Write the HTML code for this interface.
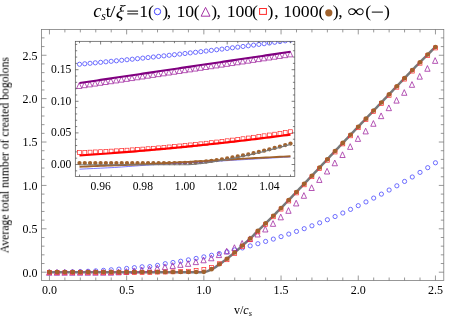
<!DOCTYPE html>
<html><head><meta charset="utf-8"><title>plot</title>
<style>html,body{margin:0;padding:0;background:#fff}svg{display:block}</style></head>
<body>
<svg width="463" height="317" viewBox="0 0 463 317">
<rect width="463" height="317" fill="#fff"/>
<defs><filter id="nl" filterUnits="userSpaceOnUse" x="0" y="0" width="463" height="317"><feOffset dx="0" dy="0"/></filter></defs>
<g id="main">
<polyline points="49.45,272.2 126.65,272.2 203.85,272.2 203.85,272.2 205.39,271.81 206.94,271.32 208.48,270.75 210.03,270.11 211.57,269.42 213.11,268.62 214.66,267.68 216.2,266.64 217.75,265.56 219.29,264.48 220.83,263.39 222.38,262.27 223.92,261.12 225.47,259.94 227.01,258.75 228.55,257.54 230.1,256.32 231.64,255.07 233.19,253.8 234.73,252.5 236.27,251.16 237.82,249.78 239.36,248.38 240.91,246.96 242.45,245.56 243.99,244.17 245.54,242.78 247.08,241.39 248.63,239.97 250.17,238.53 251.71,237.04 253.26,235.52 254.8,233.97 256.35,232.42 257.89,230.89 259.43,229.38 260.98,227.87 262.52,226.36 264.07,224.85 265.61,223.34 267.15,221.83 268.7,220.33 270.24,218.82 271.79,217.31 273.33,215.79 274.87,214.27 276.42,212.75 277.96,211.23 279.51,209.68 281.05,208.12 282.59,206.5 284.14,204.88 285.68,203.26 287.23,201.64 288.77,200.03 290.31,198.41 291.86,196.79 293.4,195.17 294.95,193.55 296.49,191.93 298.03,190.31 299.58,188.69 301.12,187.07 302.67,185.45 304.21,183.83 305.75,182.21 307.3,180.59 308.84,178.97 310.39,177.35 311.93,175.74 313.47,174.09 315.02,172.44 316.56,170.79 318.11,169.14 319.65,167.49 321.19,165.85 322.74,164.2 324.28,162.55 325.83,160.9 327.37,159.25 328.91,157.6 330.46,155.96 332,154.31 333.55,152.66 335.09,151.01 336.63,149.39 338.18,147.77 339.72,146.15 341.27,144.53 342.81,142.92 344.35,141.3 345.9,139.68 347.44,138.06 348.99,136.44 350.53,134.82 352.07,133.2 353.62,131.58 355.16,129.96 356.71,128.34 358.25,126.72 359.79,125.1 361.34,123.48 362.88,121.86 364.43,120.24 365.97,118.63 367.51,117.01 369.06,115.39 370.6,113.77 372.15,112.15 373.69,110.53 375.23,108.91 376.78,107.29 378.32,105.67 379.87,104.05 381.41,102.43 382.95,100.81 384.5,99.19 386.04,97.57 387.59,95.96 389.13,94.34 390.67,92.72 392.22,91.1 393.76,89.48 395.31,87.86 396.85,86.24 398.39,84.62 399.94,83 401.48,81.38 403.03,79.76 404.57,78.14 406.11,76.53 407.66,74.92 409.2,73.31 410.75,71.71 412.29,70.12 413.83,68.54 415.38,66.96 416.92,65.38 418.47,63.81 420.01,62.25 421.55,60.7 423.1,59.15 424.64,57.6 426.19,56.07 427.73,54.54 429.27,53.01 430.82,51.49 432.36,49.98 433.91,48.47 435.45,46.97" fill="none" stroke="#787878" stroke-width="2.5" stroke-linejoin="round"/>
<circle cx="49.45" cy="272.2" r="2.1" fill="none" stroke="#4040ff" stroke-width="0.75"/>
<circle cx="57.17" cy="272.16" r="2.1" fill="none" stroke="#4040ff" stroke-width="0.75"/>
<circle cx="64.89" cy="272.05" r="2.1" fill="none" stroke="#4040ff" stroke-width="0.75"/>
<circle cx="72.61" cy="271.86" r="2.1" fill="none" stroke="#4040ff" stroke-width="0.75"/>
<circle cx="80.33" cy="271.6" r="2.1" fill="none" stroke="#4040ff" stroke-width="0.75"/>
<circle cx="88.05" cy="271.27" r="2.1" fill="none" stroke="#4040ff" stroke-width="0.75"/>
<circle cx="95.77" cy="270.85" r="2.1" fill="none" stroke="#4040ff" stroke-width="0.75"/>
<circle cx="103.49" cy="270.37" r="2.1" fill="none" stroke="#4040ff" stroke-width="0.75"/>
<circle cx="111.21" cy="269.8" r="2.1" fill="none" stroke="#4040ff" stroke-width="0.75"/>
<circle cx="118.93" cy="269.16" r="2.1" fill="none" stroke="#4040ff" stroke-width="0.75"/>
<circle cx="126.65" cy="268.44" r="2.1" fill="none" stroke="#4040ff" stroke-width="0.75"/>
<circle cx="134.37" cy="267.65" r="2.1" fill="none" stroke="#4040ff" stroke-width="0.75"/>
<circle cx="142.09" cy="266.78" r="2.1" fill="none" stroke="#4040ff" stroke-width="0.75"/>
<circle cx="149.81" cy="266.61" r="2.1" fill="none" stroke="#4040ff" stroke-width="0.75"/>
<circle cx="157.53" cy="265.4" r="2.1" fill="none" stroke="#4040ff" stroke-width="0.75"/>
<circle cx="165.25" cy="263.68" r="2.1" fill="none" stroke="#4040ff" stroke-width="0.75"/>
<circle cx="172.97" cy="262.49" r="2.1" fill="none" stroke="#4040ff" stroke-width="0.75"/>
<circle cx="180.69" cy="261.21" r="2.1" fill="none" stroke="#4040ff" stroke-width="0.75"/>
<circle cx="188.41" cy="259.85" r="2.1" fill="none" stroke="#4040ff" stroke-width="0.75"/>
<circle cx="196.13" cy="258.41" r="2.1" fill="none" stroke="#4040ff" stroke-width="0.75"/>
<circle cx="203.85" cy="256.88" r="2.1" fill="none" stroke="#4040ff" stroke-width="0.75"/>
<circle cx="211.57" cy="255.27" r="2.1" fill="none" stroke="#4040ff" stroke-width="0.75"/>
<circle cx="219.29" cy="253.57" r="2.1" fill="none" stroke="#4040ff" stroke-width="0.75"/>
<circle cx="227.01" cy="251.78" r="2.1" fill="none" stroke="#4040ff" stroke-width="0.75"/>
<circle cx="234.73" cy="249.9" r="2.1" fill="none" stroke="#4040ff" stroke-width="0.75"/>
<circle cx="242.45" cy="247.92" r="2.1" fill="none" stroke="#4040ff" stroke-width="0.75"/>
<circle cx="250.17" cy="245.86" r="2.1" fill="none" stroke="#4040ff" stroke-width="0.75"/>
<circle cx="257.89" cy="243.7" r="2.1" fill="none" stroke="#4040ff" stroke-width="0.75"/>
<circle cx="265.61" cy="241.44" r="2.1" fill="none" stroke="#4040ff" stroke-width="0.75"/>
<circle cx="273.33" cy="239.09" r="2.1" fill="none" stroke="#4040ff" stroke-width="0.75"/>
<circle cx="281.05" cy="236.64" r="2.1" fill="none" stroke="#4040ff" stroke-width="0.75"/>
<circle cx="288.77" cy="234.09" r="2.1" fill="none" stroke="#4040ff" stroke-width="0.75"/>
<circle cx="296.49" cy="231.43" r="2.1" fill="none" stroke="#4040ff" stroke-width="0.75"/>
<circle cx="304.21" cy="228.67" r="2.1" fill="none" stroke="#4040ff" stroke-width="0.75"/>
<circle cx="311.93" cy="225.8" r="2.1" fill="none" stroke="#4040ff" stroke-width="0.75"/>
<circle cx="319.65" cy="222.83" r="2.1" fill="none" stroke="#4040ff" stroke-width="0.75"/>
<circle cx="327.37" cy="219.74" r="2.1" fill="none" stroke="#4040ff" stroke-width="0.75"/>
<circle cx="335.09" cy="216.54" r="2.1" fill="none" stroke="#4040ff" stroke-width="0.75"/>
<circle cx="342.81" cy="213.02" r="2.1" fill="none" stroke="#4040ff" stroke-width="0.75"/>
<circle cx="350.53" cy="209.39" r="2.1" fill="none" stroke="#4040ff" stroke-width="0.75"/>
<circle cx="358.25" cy="205.64" r="2.1" fill="none" stroke="#4040ff" stroke-width="0.75"/>
<circle cx="365.97" cy="201.93" r="2.1" fill="none" stroke="#4040ff" stroke-width="0.75"/>
<circle cx="373.69" cy="198.09" r="2.1" fill="none" stroke="#4040ff" stroke-width="0.75"/>
<circle cx="381.41" cy="194.12" r="2.1" fill="none" stroke="#4040ff" stroke-width="0.75"/>
<circle cx="389.13" cy="190.03" r="2.1" fill="none" stroke="#4040ff" stroke-width="0.75"/>
<circle cx="396.85" cy="185.8" r="2.1" fill="none" stroke="#4040ff" stroke-width="0.75"/>
<circle cx="404.57" cy="181.44" r="2.1" fill="none" stroke="#4040ff" stroke-width="0.75"/>
<circle cx="412.29" cy="176.99" r="2.1" fill="none" stroke="#4040ff" stroke-width="0.75"/>
<circle cx="420.01" cy="172.4" r="2.1" fill="none" stroke="#4040ff" stroke-width="0.75"/>
<circle cx="427.73" cy="167.67" r="2.1" fill="none" stroke="#4040ff" stroke-width="0.75"/>
<circle cx="435.45" cy="162.79" r="2.1" fill="none" stroke="#4040ff" stroke-width="0.75"/>
<path d="M49.15 269.58L51.8 275.28L46.5 275.28Z" fill="none" stroke="#9c1f9c" stroke-width="0.75"/>
<path d="M56.87 269.57L59.52 275.27L54.22 275.27Z" fill="none" stroke="#9c1f9c" stroke-width="0.75"/>
<path d="M64.59 269.56L67.24 275.26L61.94 275.26Z" fill="none" stroke="#9c1f9c" stroke-width="0.75"/>
<path d="M72.31 269.55L74.96 275.25L69.66 275.25Z" fill="none" stroke="#9c1f9c" stroke-width="0.75"/>
<path d="M80.03 269.54L82.68 275.24L77.38 275.24Z" fill="none" stroke="#9c1f9c" stroke-width="0.75"/>
<path d="M87.75 269.53L90.4 275.23L85.1 275.23Z" fill="none" stroke="#9c1f9c" stroke-width="0.75"/>
<path d="M95.47 269.52L98.12 275.22L92.82 275.22Z" fill="none" stroke="#9c1f9c" stroke-width="0.75"/>
<path d="M103.19 269.51L105.84 275.21L100.54 275.21Z" fill="none" stroke="#9c1f9c" stroke-width="0.75"/>
<path d="M110.91 269.5L113.56 275.2L108.26 275.2Z" fill="none" stroke="#9c1f9c" stroke-width="0.75"/>
<path d="M118.63 269.15L121.28 274.85L115.98 274.85Z" fill="none" stroke="#9c1f9c" stroke-width="0.75"/>
<path d="M126.35 268.63L129 274.33L123.7 274.33Z" fill="none" stroke="#9c1f9c" stroke-width="0.75"/>
<path d="M134.07 267.94L136.72 273.64L131.42 273.64Z" fill="none" stroke="#9c1f9c" stroke-width="0.75"/>
<path d="M141.79 267.07L144.44 272.77L139.14 272.77Z" fill="none" stroke="#9c1f9c" stroke-width="0.75"/>
<path d="M149.51 266.2L152.16 271.9L146.86 271.9Z" fill="none" stroke="#9c1f9c" stroke-width="0.75"/>
<path d="M157.23 265.16L159.88 270.86L154.58 270.86Z" fill="none" stroke="#9c1f9c" stroke-width="0.75"/>
<path d="M164.95 263.94L167.6 269.64L162.3 269.64Z" fill="none" stroke="#9c1f9c" stroke-width="0.75"/>
<path d="M172.67 262.73L175.32 268.43L170.02 268.43Z" fill="none" stroke="#9c1f9c" stroke-width="0.75"/>
<path d="M180.39 261.69L183.04 267.39L177.74 267.39Z" fill="none" stroke="#9c1f9c" stroke-width="0.75"/>
<path d="M188.11 260.65L190.76 266.35L185.46 266.35Z" fill="none" stroke="#9c1f9c" stroke-width="0.75"/>
<path d="M195.83 258.91L198.48 264.61L193.18 264.61Z" fill="none" stroke="#9c1f9c" stroke-width="0.75"/>
<path d="M203.55 257.09L206.2 262.79L200.9 262.79Z" fill="none" stroke="#9c1f9c" stroke-width="0.75"/>
<path d="M211.27 255.09L213.92 260.79L208.62 260.79Z" fill="none" stroke="#9c1f9c" stroke-width="0.75"/>
<path d="M218.99 251.88L221.64 257.58L216.34 257.58Z" fill="none" stroke="#9c1f9c" stroke-width="0.75"/>
<path d="M226.71 248.32L229.36 254.02L224.06 254.02Z" fill="none" stroke="#9c1f9c" stroke-width="0.75"/>
<path d="M234.43 244.76L237.08 250.46L231.78 250.46Z" fill="none" stroke="#9c1f9c" stroke-width="0.75"/>
<path d="M242.15 240.51L244.8 246.21L239.5 246.21Z" fill="none" stroke="#9c1f9c" stroke-width="0.75"/>
<path d="M249.87 235.91L252.52 241.61L247.22 241.61Z" fill="none" stroke="#9c1f9c" stroke-width="0.75"/>
<path d="M257.59 231.27L260.24 236.97L254.94 236.97Z" fill="none" stroke="#9c1f9c" stroke-width="0.75"/>
<path d="M265.31 226.28L267.96 231.98L262.66 231.98Z" fill="none" stroke="#9c1f9c" stroke-width="0.75"/>
<path d="M273.03 220.64L275.68 226.34L270.38 226.34Z" fill="none" stroke="#9c1f9c" stroke-width="0.75"/>
<path d="M280.75 214.13L283.4 219.83L278.1 219.83Z" fill="none" stroke="#9c1f9c" stroke-width="0.75"/>
<path d="M288.47 207.62L291.12 213.32L285.82 213.32Z" fill="none" stroke="#9c1f9c" stroke-width="0.75"/>
<path d="M296.19 200.25L298.84 205.95L293.54 205.95Z" fill="none" stroke="#9c1f9c" stroke-width="0.75"/>
<path d="M303.91 192.61L306.56 198.31L301.26 198.31Z" fill="none" stroke="#9c1f9c" stroke-width="0.75"/>
<path d="M311.63 184.8L314.28 190.5L308.98 190.5Z" fill="none" stroke="#9c1f9c" stroke-width="0.75"/>
<path d="M319.35 176.73L322 182.43L316.7 182.43Z" fill="none" stroke="#9c1f9c" stroke-width="0.75"/>
<path d="M327.07 168.31L329.72 174.01L324.42 174.01Z" fill="none" stroke="#9c1f9c" stroke-width="0.75"/>
<path d="M334.79 160.07L337.44 165.77L332.14 165.77Z" fill="none" stroke="#9c1f9c" stroke-width="0.75"/>
<path d="M342.51 151.82L345.16 157.52L339.86 157.52Z" fill="none" stroke="#9c1f9c" stroke-width="0.75"/>
<path d="M350.23 143.67L352.88 149.37L347.58 149.37Z" fill="none" stroke="#9c1f9c" stroke-width="0.75"/>
<path d="M357.95 135.68L360.6 141.38L355.3 141.38Z" fill="none" stroke="#9c1f9c" stroke-width="0.75"/>
<path d="M365.67 128.22L368.32 133.92L363.02 133.92Z" fill="none" stroke="#9c1f9c" stroke-width="0.75"/>
<path d="M373.39 120.58L376.04 126.28L370.74 126.28Z" fill="none" stroke="#9c1f9c" stroke-width="0.75"/>
<path d="M381.11 112.95L383.76 118.65L378.46 118.65Z" fill="none" stroke="#9c1f9c" stroke-width="0.75"/>
<path d="M388.83 104.96L391.48 110.66L386.18 110.66Z" fill="none" stroke="#9c1f9c" stroke-width="0.75"/>
<path d="M396.55 97.41L399.2 103.11L393.9 103.11Z" fill="none" stroke="#9c1f9c" stroke-width="0.75"/>
<path d="M404.27 89.6L406.92 95.3L401.62 95.3Z" fill="none" stroke="#9c1f9c" stroke-width="0.75"/>
<path d="M411.99 81.62L414.64 87.32L409.34 87.32Z" fill="none" stroke="#9c1f9c" stroke-width="0.75"/>
<path d="M419.71 73.46L422.36 79.16L417.06 79.16Z" fill="none" stroke="#9c1f9c" stroke-width="0.75"/>
<path d="M427.43 65.56L430.08 71.26L424.78 71.26Z" fill="none" stroke="#9c1f9c" stroke-width="0.75"/>
<path d="M435.15 57.67L437.8 63.37L432.5 63.37Z" fill="none" stroke="#9c1f9c" stroke-width="0.75"/>
<rect x="47.5" y="270.51" width="3.9" height="3.9" fill="none" stroke="#ff2a2a" stroke-width="0.7"/>
<rect x="55.22" y="270.51" width="3.9" height="3.9" fill="none" stroke="#ff2a2a" stroke-width="0.7"/>
<rect x="62.94" y="270.51" width="3.9" height="3.9" fill="none" stroke="#ff2a2a" stroke-width="0.7"/>
<rect x="70.66" y="270.51" width="3.9" height="3.9" fill="none" stroke="#ff2a2a" stroke-width="0.7"/>
<rect x="78.38" y="270.51" width="3.9" height="3.9" fill="none" stroke="#ff2a2a" stroke-width="0.7"/>
<rect x="86.1" y="270.51" width="3.9" height="3.9" fill="none" stroke="#ff2a2a" stroke-width="0.7"/>
<rect x="93.82" y="270.51" width="3.9" height="3.9" fill="none" stroke="#ff2a2a" stroke-width="0.7"/>
<rect x="101.54" y="270.51" width="3.9" height="3.9" fill="none" stroke="#ff2a2a" stroke-width="0.7"/>
<rect x="109.26" y="270.51" width="3.9" height="3.9" fill="none" stroke="#ff2a2a" stroke-width="0.7"/>
<rect x="116.98" y="270.51" width="3.9" height="3.9" fill="none" stroke="#ff2a2a" stroke-width="0.7"/>
<rect x="124.7" y="270.51" width="3.9" height="3.9" fill="none" stroke="#ff2a2a" stroke-width="0.7"/>
<rect x="132.42" y="270.51" width="3.9" height="3.9" fill="none" stroke="#ff2a2a" stroke-width="0.7"/>
<rect x="140.14" y="270.51" width="3.9" height="3.9" fill="none" stroke="#ff2a2a" stroke-width="0.7"/>
<rect x="147.86" y="270.51" width="3.9" height="3.9" fill="none" stroke="#ff2a2a" stroke-width="0.7"/>
<rect x="155.58" y="270.16" width="3.9" height="3.9" fill="none" stroke="#ff2a2a" stroke-width="0.7"/>
<rect x="163.3" y="270.08" width="3.9" height="3.9" fill="none" stroke="#ff2a2a" stroke-width="0.7"/>
<rect x="171.02" y="269.9" width="3.9" height="3.9" fill="none" stroke="#ff2a2a" stroke-width="0.7"/>
<rect x="178.74" y="269.64" width="3.9" height="3.9" fill="none" stroke="#ff2a2a" stroke-width="0.7"/>
<rect x="186.46" y="269.3" width="3.9" height="3.9" fill="none" stroke="#ff2a2a" stroke-width="0.7"/>
<rect x="194.18" y="268.6" width="3.9" height="3.9" fill="none" stroke="#ff2a2a" stroke-width="0.7"/>
<rect x="201.9" y="267.56" width="3.9" height="3.9" fill="none" stroke="#ff2a2a" stroke-width="0.7"/>
<rect x="209.62" y="265.39" width="3.9" height="3.9" fill="none" stroke="#ff2a2a" stroke-width="0.7"/>
<rect x="217.34" y="261.75" width="3.9" height="3.9" fill="none" stroke="#ff2a2a" stroke-width="0.7"/>
<rect x="225.06" y="257.8" width="3.9" height="3.9" fill="none" stroke="#ff2a2a" stroke-width="0.7"/>
<rect x="232.78" y="251.55" width="3.9" height="3.9" fill="none" stroke="#ff2a2a" stroke-width="0.7"/>
<rect x="240.5" y="244.61" width="3.9" height="3.9" fill="none" stroke="#ff2a2a" stroke-width="0.7"/>
<rect x="248.22" y="237.58" width="3.9" height="3.9" fill="none" stroke="#ff2a2a" stroke-width="0.7"/>
<rect x="255.94" y="229.94" width="3.9" height="3.9" fill="none" stroke="#ff2a2a" stroke-width="0.7"/>
<rect x="263.66" y="222.39" width="3.9" height="3.9" fill="none" stroke="#ff2a2a" stroke-width="0.7"/>
<rect x="271.38" y="214.84" width="3.9" height="3.9" fill="none" stroke="#ff2a2a" stroke-width="0.7"/>
<rect x="279.1" y="207.17" width="3.9" height="3.9" fill="none" stroke="#ff2a2a" stroke-width="0.7"/>
<rect x="286.82" y="199.07" width="3.9" height="3.9" fill="none" stroke="#ff2a2a" stroke-width="0.7"/>
<rect x="294.54" y="190.98" width="3.9" height="3.9" fill="none" stroke="#ff2a2a" stroke-width="0.7"/>
<rect x="302.26" y="182.88" width="3.9" height="3.9" fill="none" stroke="#ff2a2a" stroke-width="0.7"/>
<rect x="309.98" y="174.78" width="3.9" height="3.9" fill="none" stroke="#ff2a2a" stroke-width="0.7"/>
<rect x="317.7" y="166.54" width="3.9" height="3.9" fill="none" stroke="#ff2a2a" stroke-width="0.7"/>
<rect x="325.42" y="158.3" width="3.9" height="3.9" fill="none" stroke="#ff2a2a" stroke-width="0.7"/>
<rect x="333.14" y="150.06" width="3.9" height="3.9" fill="none" stroke="#ff2a2a" stroke-width="0.7"/>
<rect x="340.86" y="141.96" width="3.9" height="3.9" fill="none" stroke="#ff2a2a" stroke-width="0.7"/>
<rect x="348.58" y="133.87" width="3.9" height="3.9" fill="none" stroke="#ff2a2a" stroke-width="0.7"/>
<rect x="356.3" y="125.77" width="3.9" height="3.9" fill="none" stroke="#ff2a2a" stroke-width="0.7"/>
<rect x="364.02" y="117.67" width="3.9" height="3.9" fill="none" stroke="#ff2a2a" stroke-width="0.7"/>
<rect x="371.74" y="109.58" width="3.9" height="3.9" fill="none" stroke="#ff2a2a" stroke-width="0.7"/>
<rect x="379.46" y="101.48" width="3.9" height="3.9" fill="none" stroke="#ff2a2a" stroke-width="0.7"/>
<rect x="387.18" y="93.38" width="3.9" height="3.9" fill="none" stroke="#ff2a2a" stroke-width="0.7"/>
<rect x="394.9" y="85.29" width="3.9" height="3.9" fill="none" stroke="#ff2a2a" stroke-width="0.7"/>
<rect x="402.62" y="77.19" width="3.9" height="3.9" fill="none" stroke="#ff2a2a" stroke-width="0.7"/>
<rect x="410.34" y="69.17" width="3.9" height="3.9" fill="none" stroke="#ff2a2a" stroke-width="0.7"/>
<rect x="418.06" y="61.3" width="3.9" height="3.9" fill="none" stroke="#ff2a2a" stroke-width="0.7"/>
<rect x="425.78" y="53.58" width="3.9" height="3.9" fill="none" stroke="#ff2a2a" stroke-width="0.7"/>
<rect x="433.5" y="46.02" width="3.9" height="3.9" fill="none" stroke="#ff2a2a" stroke-width="0.7"/>
<circle cx="49.45" cy="272.07" r="2.3" fill="#a0622d"/>
<circle cx="57.17" cy="272.07" r="2.3" fill="#a0622d"/>
<circle cx="64.89" cy="272.07" r="2.3" fill="#a0622d"/>
<circle cx="72.61" cy="272.07" r="2.3" fill="#a0622d"/>
<circle cx="80.33" cy="272.07" r="2.3" fill="#a0622d"/>
<circle cx="88.05" cy="272.07" r="2.3" fill="#a0622d"/>
<circle cx="95.77" cy="272.07" r="2.3" fill="#a0622d"/>
<circle cx="103.49" cy="272.07" r="2.3" fill="#a0622d"/>
<circle cx="111.21" cy="272.07" r="2.3" fill="#a0622d"/>
<circle cx="118.93" cy="272.07" r="2.3" fill="#a0622d"/>
<circle cx="126.65" cy="272.07" r="2.3" fill="#a0622d"/>
<circle cx="134.37" cy="272.07" r="2.3" fill="#a0622d"/>
<circle cx="142.09" cy="272.07" r="2.3" fill="#a0622d"/>
<circle cx="149.81" cy="272.07" r="2.3" fill="#a0622d"/>
<circle cx="157.53" cy="272.07" r="2.3" fill="#a0622d"/>
<circle cx="165.25" cy="272.07" r="2.3" fill="#a0622d"/>
<circle cx="172.97" cy="272.07" r="2.3" fill="#a0622d"/>
<circle cx="180.69" cy="272.07" r="2.3" fill="#a0622d"/>
<circle cx="188.41" cy="272.07" r="2.3" fill="#a0622d"/>
<circle cx="196.13" cy="272.07" r="2.3" fill="#a0622d"/>
<circle cx="203.85" cy="271.85" r="2.3" fill="#a0622d"/>
<circle cx="211.57" cy="269.16" r="2.3" fill="#a0622d"/>
<circle cx="219.29" cy="264.22" r="2.3" fill="#a0622d"/>
<circle cx="227.01" cy="258.75" r="2.3" fill="#a0622d"/>
<circle cx="234.73" cy="252.5" r="2.3" fill="#a0622d"/>
<circle cx="242.45" cy="245.56" r="2.3" fill="#a0622d"/>
<circle cx="250.17" cy="238.53" r="2.3" fill="#a0622d"/>
<circle cx="257.89" cy="230.89" r="2.3" fill="#a0622d"/>
<circle cx="265.61" cy="223.34" r="2.3" fill="#a0622d"/>
<circle cx="273.33" cy="215.79" r="2.3" fill="#a0622d"/>
<circle cx="281.05" cy="208.12" r="2.3" fill="#a0622d"/>
<circle cx="288.77" cy="200.03" r="2.3" fill="#a0622d"/>
<circle cx="296.49" cy="191.93" r="2.3" fill="#a0622d"/>
<circle cx="304.21" cy="183.83" r="2.3" fill="#a0622d"/>
<circle cx="311.93" cy="175.74" r="2.3" fill="#a0622d"/>
<circle cx="319.65" cy="167.49" r="2.3" fill="#a0622d"/>
<circle cx="327.37" cy="159.25" r="2.3" fill="#a0622d"/>
<circle cx="335.09" cy="151.01" r="2.3" fill="#a0622d"/>
<circle cx="342.81" cy="142.92" r="2.3" fill="#a0622d"/>
<circle cx="350.53" cy="134.82" r="2.3" fill="#a0622d"/>
<circle cx="358.25" cy="126.72" r="2.3" fill="#a0622d"/>
<circle cx="365.97" cy="118.63" r="2.3" fill="#a0622d"/>
<circle cx="373.69" cy="110.53" r="2.3" fill="#a0622d"/>
<circle cx="381.41" cy="102.43" r="2.3" fill="#a0622d"/>
<circle cx="389.13" cy="94.34" r="2.3" fill="#a0622d"/>
<circle cx="396.85" cy="86.24" r="2.3" fill="#a0622d"/>
<circle cx="404.57" cy="78.14" r="2.3" fill="#a0622d"/>
<circle cx="412.29" cy="70.12" r="2.3" fill="#a0622d"/>
<circle cx="420.01" cy="62.25" r="2.3" fill="#a0622d"/>
<circle cx="427.73" cy="54.54" r="2.3" fill="#a0622d"/>
<circle cx="435.45" cy="46.97" r="2.3" fill="#a0622d"/>
</g>
<g stroke="#767676" stroke-width="0.75" fill="none">
<rect x="41.5" y="29.4" width="402.3" height="251.1"/>
<path d="M49.45 280.5v-5.0M49.45 29.4v5.0"/>
<path d="M64.89 280.5v-3.0M64.89 29.4v3.0"/>
<path d="M80.33 280.5v-3.0M80.33 29.4v3.0"/>
<path d="M95.77 280.5v-3.0M95.77 29.4v3.0"/>
<path d="M111.21 280.5v-3.0M111.21 29.4v3.0"/>
<path d="M126.65 280.5v-5.0M126.65 29.4v5.0"/>
<path d="M142.09 280.5v-3.0M142.09 29.4v3.0"/>
<path d="M157.53 280.5v-3.0M157.53 29.4v3.0"/>
<path d="M172.97 280.5v-3.0M172.97 29.4v3.0"/>
<path d="M188.41 280.5v-3.0M188.41 29.4v3.0"/>
<path d="M203.85 280.5v-5.0M203.85 29.4v5.0"/>
<path d="M219.29 280.5v-3.0M219.29 29.4v3.0"/>
<path d="M234.73 280.5v-3.0M234.73 29.4v3.0"/>
<path d="M250.17 280.5v-3.0M250.17 29.4v3.0"/>
<path d="M265.61 280.5v-3.0M265.61 29.4v3.0"/>
<path d="M281.05 280.5v-5.0M281.05 29.4v5.0"/>
<path d="M296.49 280.5v-3.0M296.49 29.4v3.0"/>
<path d="M311.93 280.5v-3.0M311.93 29.4v3.0"/>
<path d="M327.37 280.5v-3.0M327.37 29.4v3.0"/>
<path d="M342.81 280.5v-3.0M342.81 29.4v3.0"/>
<path d="M358.25 280.5v-5.0M358.25 29.4v5.0"/>
<path d="M373.69 280.5v-3.0M373.69 29.4v3.0"/>
<path d="M389.13 280.5v-3.0M389.13 29.4v3.0"/>
<path d="M404.57 280.5v-3.0M404.57 29.4v3.0"/>
<path d="M420.01 280.5v-3.0M420.01 29.4v3.0"/>
<path d="M435.45 280.5v-5.0M435.45 29.4v5.0"/>
<path d="M41.5 272.2h5.0M443.8 272.2h-5.0"/>
<path d="M41.5 263.52h3.0M443.8 263.52h-3.0"/>
<path d="M41.5 254.84h3.0M443.8 254.84h-3.0"/>
<path d="M41.5 246.17h3.0M443.8 246.17h-3.0"/>
<path d="M41.5 237.49h3.0M443.8 237.49h-3.0"/>
<path d="M41.5 228.81h5.0M443.8 228.81h-5.0"/>
<path d="M41.5 220.13h3.0M443.8 220.13h-3.0"/>
<path d="M41.5 211.45h3.0M443.8 211.45h-3.0"/>
<path d="M41.5 202.78h3.0M443.8 202.78h-3.0"/>
<path d="M41.5 194.1h3.0M443.8 194.1h-3.0"/>
<path d="M41.5 185.42h5.0M443.8 185.42h-5.0"/>
<path d="M41.5 176.74h3.0M443.8 176.74h-3.0"/>
<path d="M41.5 168.06h3.0M443.8 168.06h-3.0"/>
<path d="M41.5 159.39h3.0M443.8 159.39h-3.0"/>
<path d="M41.5 150.71h3.0M443.8 150.71h-3.0"/>
<path d="M41.5 142.03h5.0M443.8 142.03h-5.0"/>
<path d="M41.5 133.35h3.0M443.8 133.35h-3.0"/>
<path d="M41.5 124.67h3.0M443.8 124.67h-3.0"/>
<path d="M41.5 116h3.0M443.8 116h-3.0"/>
<path d="M41.5 107.32h3.0M443.8 107.32h-3.0"/>
<path d="M41.5 98.64h5.0M443.8 98.64h-5.0"/>
<path d="M41.5 89.96h3.0M443.8 89.96h-3.0"/>
<path d="M41.5 81.28h3.0M443.8 81.28h-3.0"/>
<path d="M41.5 72.61h3.0M443.8 72.61h-3.0"/>
<path d="M41.5 63.93h3.0M443.8 63.93h-3.0"/>
<path d="M41.5 55.25h5.0M443.8 55.25h-5.0"/>
<path d="M41.5 46.57h3.0M443.8 46.57h-3.0"/>
<path d="M41.5 37.89h3.0M443.8 37.89h-3.0"/>
</g>
<g filter="url(#nl)" font-family="Liberation Serif, serif" font-size="12" fill="#000">
<text x="49.45" y="293.8" text-anchor="middle">0.0</text>
<text x="37.6" y="276.6" text-anchor="end">0.0</text>
<text x="126.65" y="293.8" text-anchor="middle">0.5</text>
<text x="37.6" y="233.21" text-anchor="end">0.5</text>
<text x="203.85" y="293.8" text-anchor="middle">1.0</text>
<text x="37.6" y="189.82" text-anchor="end">1.0</text>
<text x="281.05" y="293.8" text-anchor="middle">1.5</text>
<text x="37.6" y="146.43" text-anchor="end">1.5</text>
<text x="358.25" y="293.8" text-anchor="middle">2.0</text>
<text x="37.6" y="103.04" text-anchor="end">2.0</text>
<text x="435.45" y="293.8" text-anchor="middle">2.5</text>
<text x="37.6" y="59.65" text-anchor="end">2.5</text>
</g>
<rect x="75.3" y="41.3" width="219.5" height="135.2" fill="#fff"/>
<clipPath id="ic"><rect x="75.3" y="41.3" width="219.5" height="135.2"/></clipPath>
<g clip-path="url(#ic)">
<circle cx="79.5" cy="64.26" r="2.1" fill="none" stroke="#4040ff" stroke-width="0.75"/>
<circle cx="84.77" cy="63.79" r="2.1" fill="none" stroke="#4040ff" stroke-width="0.75"/>
<circle cx="90.05" cy="63.31" r="2.1" fill="none" stroke="#4040ff" stroke-width="0.75"/>
<circle cx="95.32" cy="62.82" r="2.1" fill="none" stroke="#4040ff" stroke-width="0.75"/>
<circle cx="100.6" cy="62.32" r="2.1" fill="none" stroke="#4040ff" stroke-width="0.75"/>
<circle cx="105.87" cy="61.82" r="2.1" fill="none" stroke="#4040ff" stroke-width="0.75"/>
<circle cx="111.15" cy="61.31" r="2.1" fill="none" stroke="#4040ff" stroke-width="0.75"/>
<circle cx="116.42" cy="60.8" r="2.1" fill="none" stroke="#4040ff" stroke-width="0.75"/>
<circle cx="121.7" cy="60.28" r="2.1" fill="none" stroke="#4040ff" stroke-width="0.75"/>
<circle cx="126.97" cy="59.75" r="2.1" fill="none" stroke="#4040ff" stroke-width="0.75"/>
<circle cx="132.25" cy="59.22" r="2.1" fill="none" stroke="#4040ff" stroke-width="0.75"/>
<circle cx="137.52" cy="58.67" r="2.1" fill="none" stroke="#4040ff" stroke-width="0.75"/>
<circle cx="142.8" cy="58.13" r="2.1" fill="none" stroke="#4040ff" stroke-width="0.75"/>
<circle cx="148.07" cy="57.57" r="2.1" fill="none" stroke="#4040ff" stroke-width="0.75"/>
<circle cx="153.35" cy="57.01" r="2.1" fill="none" stroke="#4040ff" stroke-width="0.75"/>
<circle cx="158.62" cy="56.44" r="2.1" fill="none" stroke="#4040ff" stroke-width="0.75"/>
<circle cx="163.9" cy="55.87" r="2.1" fill="none" stroke="#4040ff" stroke-width="0.75"/>
<circle cx="169.17" cy="55.29" r="2.1" fill="none" stroke="#4040ff" stroke-width="0.75"/>
<circle cx="174.45" cy="54.7" r="2.1" fill="none" stroke="#4040ff" stroke-width="0.75"/>
<circle cx="179.72" cy="54.11" r="2.1" fill="none" stroke="#4040ff" stroke-width="0.75"/>
<circle cx="185" cy="53.5" r="2.1" fill="none" stroke="#4040ff" stroke-width="0.75"/>
<circle cx="190.27" cy="52.9" r="2.1" fill="none" stroke="#4040ff" stroke-width="0.75"/>
<circle cx="195.55" cy="52.28" r="2.1" fill="none" stroke="#4040ff" stroke-width="0.75"/>
<circle cx="200.83" cy="51.66" r="2.1" fill="none" stroke="#4040ff" stroke-width="0.75"/>
<circle cx="206.1" cy="51.04" r="2.1" fill="none" stroke="#4040ff" stroke-width="0.75"/>
<circle cx="211.37" cy="50.4" r="2.1" fill="none" stroke="#4040ff" stroke-width="0.75"/>
<circle cx="216.65" cy="49.76" r="2.1" fill="none" stroke="#4040ff" stroke-width="0.75"/>
<circle cx="221.93" cy="49.11" r="2.1" fill="none" stroke="#4040ff" stroke-width="0.75"/>
<circle cx="227.2" cy="48.46" r="2.1" fill="none" stroke="#4040ff" stroke-width="0.75"/>
<circle cx="232.47" cy="47.8" r="2.1" fill="none" stroke="#4040ff" stroke-width="0.75"/>
<circle cx="237.75" cy="47.13" r="2.1" fill="none" stroke="#4040ff" stroke-width="0.75"/>
<circle cx="243.02" cy="46.46" r="2.1" fill="none" stroke="#4040ff" stroke-width="0.75"/>
<circle cx="248.3" cy="45.78" r="2.1" fill="none" stroke="#4040ff" stroke-width="0.75"/>
<circle cx="253.58" cy="45.09" r="2.1" fill="none" stroke="#4040ff" stroke-width="0.75"/>
<circle cx="258.85" cy="44.4" r="2.1" fill="none" stroke="#4040ff" stroke-width="0.75"/>
<circle cx="264.12" cy="43.7" r="2.1" fill="none" stroke="#4040ff" stroke-width="0.75"/>
<circle cx="269.4" cy="42.99" r="2.1" fill="none" stroke="#4040ff" stroke-width="0.75"/>
<circle cx="274.68" cy="42.28" r="2.1" fill="none" stroke="#4040ff" stroke-width="0.75"/>
<circle cx="279.95" cy="41.56" r="2.1" fill="none" stroke="#4040ff" stroke-width="0.75"/>
<circle cx="285.22" cy="40.83" r="2.1" fill="none" stroke="#4040ff" stroke-width="0.75"/>
<circle cx="290.5" cy="40.1" r="2.1" fill="none" stroke="#4040ff" stroke-width="0.75"/>
<path d="M79.2 82.77L81.85 88.47L76.55 88.47Z" fill="none" stroke="#9c1f9c" stroke-width="0.75"/>
<path d="M84.47 81.98L87.12 87.68L81.82 87.68Z" fill="none" stroke="#9c1f9c" stroke-width="0.75"/>
<path d="M89.75 81.19L92.4 86.89L87.1 86.89Z" fill="none" stroke="#9c1f9c" stroke-width="0.75"/>
<path d="M95.02 80.4L97.67 86.1L92.37 86.1Z" fill="none" stroke="#9c1f9c" stroke-width="0.75"/>
<path d="M100.3 79.61L102.95 85.31L97.65 85.31Z" fill="none" stroke="#9c1f9c" stroke-width="0.75"/>
<path d="M105.57 78.82L108.22 84.52L102.92 84.52Z" fill="none" stroke="#9c1f9c" stroke-width="0.75"/>
<path d="M110.85 78.03L113.5 83.73L108.2 83.73Z" fill="none" stroke="#9c1f9c" stroke-width="0.75"/>
<path d="M116.12 77.24L118.77 82.94L113.47 82.94Z" fill="none" stroke="#9c1f9c" stroke-width="0.75"/>
<path d="M121.4 76.45L124.05 82.15L118.75 82.15Z" fill="none" stroke="#9c1f9c" stroke-width="0.75"/>
<path d="M126.67 75.66L129.32 81.36L124.02 81.36Z" fill="none" stroke="#9c1f9c" stroke-width="0.75"/>
<path d="M131.95 74.87L134.6 80.57L129.3 80.57Z" fill="none" stroke="#9c1f9c" stroke-width="0.75"/>
<path d="M137.22 74.08L139.87 79.78L134.57 79.78Z" fill="none" stroke="#9c1f9c" stroke-width="0.75"/>
<path d="M142.5 73.29L145.15 78.99L139.85 78.99Z" fill="none" stroke="#9c1f9c" stroke-width="0.75"/>
<path d="M147.77 72.5L150.42 78.2L145.12 78.2Z" fill="none" stroke="#9c1f9c" stroke-width="0.75"/>
<path d="M153.05 71.71L155.7 77.41L150.4 77.41Z" fill="none" stroke="#9c1f9c" stroke-width="0.75"/>
<path d="M158.32 70.92L160.97 76.62L155.67 76.62Z" fill="none" stroke="#9c1f9c" stroke-width="0.75"/>
<path d="M163.6 70.13L166.25 75.83L160.95 75.83Z" fill="none" stroke="#9c1f9c" stroke-width="0.75"/>
<path d="M168.87 69.34L171.52 75.04L166.22 75.04Z" fill="none" stroke="#9c1f9c" stroke-width="0.75"/>
<path d="M174.15 68.55L176.8 74.25L171.5 74.25Z" fill="none" stroke="#9c1f9c" stroke-width="0.75"/>
<path d="M179.42 67.76L182.07 73.46L176.77 73.46Z" fill="none" stroke="#9c1f9c" stroke-width="0.75"/>
<path d="M184.7 66.97L187.35 72.67L182.05 72.67Z" fill="none" stroke="#9c1f9c" stroke-width="0.75"/>
<path d="M189.97 66.18L192.62 71.88L187.32 71.88Z" fill="none" stroke="#9c1f9c" stroke-width="0.75"/>
<path d="M195.25 65.39L197.9 71.09L192.6 71.09Z" fill="none" stroke="#9c1f9c" stroke-width="0.75"/>
<path d="M200.53 64.6L203.18 70.3L197.88 70.3Z" fill="none" stroke="#9c1f9c" stroke-width="0.75"/>
<path d="M205.8 63.81L208.45 69.51L203.15 69.51Z" fill="none" stroke="#9c1f9c" stroke-width="0.75"/>
<path d="M211.07 63.02L213.72 68.72L208.42 68.72Z" fill="none" stroke="#9c1f9c" stroke-width="0.75"/>
<path d="M216.35 62.23L219 67.93L213.7 67.93Z" fill="none" stroke="#9c1f9c" stroke-width="0.75"/>
<path d="M221.63 61.44L224.28 67.14L218.98 67.14Z" fill="none" stroke="#9c1f9c" stroke-width="0.75"/>
<path d="M226.9 60.65L229.55 66.35L224.25 66.35Z" fill="none" stroke="#9c1f9c" stroke-width="0.75"/>
<path d="M232.17 59.86L234.82 65.56L229.52 65.56Z" fill="none" stroke="#9c1f9c" stroke-width="0.75"/>
<path d="M237.45 59.07L240.1 64.77L234.8 64.77Z" fill="none" stroke="#9c1f9c" stroke-width="0.75"/>
<path d="M242.72 58.28L245.37 63.98L240.07 63.98Z" fill="none" stroke="#9c1f9c" stroke-width="0.75"/>
<path d="M248 57.49L250.65 63.19L245.35 63.19Z" fill="none" stroke="#9c1f9c" stroke-width="0.75"/>
<path d="M253.28 56.7L255.93 62.4L250.62 62.4Z" fill="none" stroke="#9c1f9c" stroke-width="0.75"/>
<path d="M258.55 55.91L261.2 61.61L255.9 61.61Z" fill="none" stroke="#9c1f9c" stroke-width="0.75"/>
<path d="M263.82 55.12L266.47 60.82L261.17 60.82Z" fill="none" stroke="#9c1f9c" stroke-width="0.75"/>
<path d="M269.1 54.33L271.75 60.03L266.45 60.03Z" fill="none" stroke="#9c1f9c" stroke-width="0.75"/>
<path d="M274.38 53.54L277.03 59.24L271.73 59.24Z" fill="none" stroke="#9c1f9c" stroke-width="0.75"/>
<path d="M279.65 52.75L282.3 58.45L277 58.45Z" fill="none" stroke="#9c1f9c" stroke-width="0.75"/>
<path d="M284.92 51.96L287.57 57.66L282.27 57.66Z" fill="none" stroke="#9c1f9c" stroke-width="0.75"/>
<path d="M290.2 51.17L292.85 56.87L287.55 56.87Z" fill="none" stroke="#9c1f9c" stroke-width="0.75"/>
<rect x="77.55" y="150.61" width="3.9" height="3.9" fill="none" stroke="#ff2a2a" stroke-width="0.7"/>
<rect x="82.82" y="150.41" width="3.9" height="3.9" fill="none" stroke="#ff2a2a" stroke-width="0.7"/>
<rect x="88.1" y="150.19" width="3.9" height="3.9" fill="none" stroke="#ff2a2a" stroke-width="0.7"/>
<rect x="93.37" y="149.96" width="3.9" height="3.9" fill="none" stroke="#ff2a2a" stroke-width="0.7"/>
<rect x="98.65" y="149.72" width="3.9" height="3.9" fill="none" stroke="#ff2a2a" stroke-width="0.7"/>
<rect x="103.92" y="149.45" width="3.9" height="3.9" fill="none" stroke="#ff2a2a" stroke-width="0.7"/>
<rect x="109.2" y="149.17" width="3.9" height="3.9" fill="none" stroke="#ff2a2a" stroke-width="0.7"/>
<rect x="114.47" y="148.87" width="3.9" height="3.9" fill="none" stroke="#ff2a2a" stroke-width="0.7"/>
<rect x="119.75" y="148.56" width="3.9" height="3.9" fill="none" stroke="#ff2a2a" stroke-width="0.7"/>
<rect x="125.02" y="148.23" width="3.9" height="3.9" fill="none" stroke="#ff2a2a" stroke-width="0.7"/>
<rect x="130.3" y="147.88" width="3.9" height="3.9" fill="none" stroke="#ff2a2a" stroke-width="0.7"/>
<rect x="135.57" y="147.52" width="3.9" height="3.9" fill="none" stroke="#ff2a2a" stroke-width="0.7"/>
<rect x="140.85" y="147.14" width="3.9" height="3.9" fill="none" stroke="#ff2a2a" stroke-width="0.7"/>
<rect x="146.12" y="146.74" width="3.9" height="3.9" fill="none" stroke="#ff2a2a" stroke-width="0.7"/>
<rect x="151.4" y="146.33" width="3.9" height="3.9" fill="none" stroke="#ff2a2a" stroke-width="0.7"/>
<rect x="156.67" y="145.9" width="3.9" height="3.9" fill="none" stroke="#ff2a2a" stroke-width="0.7"/>
<rect x="161.95" y="145.45" width="3.9" height="3.9" fill="none" stroke="#ff2a2a" stroke-width="0.7"/>
<rect x="167.22" y="144.99" width="3.9" height="3.9" fill="none" stroke="#ff2a2a" stroke-width="0.7"/>
<rect x="172.5" y="144.51" width="3.9" height="3.9" fill="none" stroke="#ff2a2a" stroke-width="0.7"/>
<rect x="177.77" y="144.01" width="3.9" height="3.9" fill="none" stroke="#ff2a2a" stroke-width="0.7"/>
<rect x="183.05" y="143.5" width="3.9" height="3.9" fill="none" stroke="#ff2a2a" stroke-width="0.7"/>
<rect x="188.32" y="142.97" width="3.9" height="3.9" fill="none" stroke="#ff2a2a" stroke-width="0.7"/>
<rect x="193.6" y="142.42" width="3.9" height="3.9" fill="none" stroke="#ff2a2a" stroke-width="0.7"/>
<rect x="198.88" y="141.86" width="3.9" height="3.9" fill="none" stroke="#ff2a2a" stroke-width="0.7"/>
<rect x="204.15" y="141.28" width="3.9" height="3.9" fill="none" stroke="#ff2a2a" stroke-width="0.7"/>
<rect x="209.42" y="140.69" width="3.9" height="3.9" fill="none" stroke="#ff2a2a" stroke-width="0.7"/>
<rect x="214.7" y="140.07" width="3.9" height="3.9" fill="none" stroke="#ff2a2a" stroke-width="0.7"/>
<rect x="219.98" y="139.44" width="3.9" height="3.9" fill="none" stroke="#ff2a2a" stroke-width="0.7"/>
<rect x="225.25" y="138.8" width="3.9" height="3.9" fill="none" stroke="#ff2a2a" stroke-width="0.7"/>
<rect x="230.53" y="138.13" width="3.9" height="3.9" fill="none" stroke="#ff2a2a" stroke-width="0.7"/>
<rect x="235.8" y="137.46" width="3.9" height="3.9" fill="none" stroke="#ff2a2a" stroke-width="0.7"/>
<rect x="241.07" y="136.76" width="3.9" height="3.9" fill="none" stroke="#ff2a2a" stroke-width="0.7"/>
<rect x="246.35" y="136.05" width="3.9" height="3.9" fill="none" stroke="#ff2a2a" stroke-width="0.7"/>
<rect x="251.63" y="135.32" width="3.9" height="3.9" fill="none" stroke="#ff2a2a" stroke-width="0.7"/>
<rect x="256.9" y="134.57" width="3.9" height="3.9" fill="none" stroke="#ff2a2a" stroke-width="0.7"/>
<rect x="262.17" y="133.81" width="3.9" height="3.9" fill="none" stroke="#ff2a2a" stroke-width="0.7"/>
<rect x="267.45" y="133.03" width="3.9" height="3.9" fill="none" stroke="#ff2a2a" stroke-width="0.7"/>
<rect x="272.73" y="132.24" width="3.9" height="3.9" fill="none" stroke="#ff2a2a" stroke-width="0.7"/>
<rect x="278" y="131.42" width="3.9" height="3.9" fill="none" stroke="#ff2a2a" stroke-width="0.7"/>
<rect x="283.27" y="130.59" width="3.9" height="3.9" fill="none" stroke="#ff2a2a" stroke-width="0.7"/>
<rect x="288.55" y="129.75" width="3.9" height="3.9" fill="none" stroke="#ff2a2a" stroke-width="0.7"/>
<circle cx="79.5" cy="163.11" r="2.15" fill="#a0622d"/>
<circle cx="84.77" cy="163.11" r="2.15" fill="#a0622d"/>
<circle cx="90.05" cy="163.11" r="2.15" fill="#a0622d"/>
<circle cx="95.32" cy="163.11" r="2.15" fill="#a0622d"/>
<circle cx="100.6" cy="163.11" r="2.15" fill="#a0622d"/>
<circle cx="105.87" cy="163.11" r="2.15" fill="#a0622d"/>
<circle cx="111.15" cy="163.11" r="2.15" fill="#a0622d"/>
<circle cx="116.42" cy="163.11" r="2.15" fill="#a0622d"/>
<circle cx="121.7" cy="163.11" r="2.15" fill="#a0622d"/>
<circle cx="126.97" cy="163.11" r="2.15" fill="#a0622d"/>
<circle cx="132.25" cy="163.11" r="2.15" fill="#a0622d"/>
<circle cx="137.52" cy="163.11" r="2.15" fill="#a0622d"/>
<circle cx="142.8" cy="163.11" r="2.15" fill="#a0622d"/>
<circle cx="148.07" cy="163.11" r="2.15" fill="#a0622d"/>
<circle cx="153.35" cy="163.11" r="2.15" fill="#a0622d"/>
<circle cx="158.62" cy="163.11" r="2.15" fill="#a0622d"/>
<circle cx="163.9" cy="163.11" r="2.15" fill="#a0622d"/>
<circle cx="169.17" cy="163.1" r="2.15" fill="#a0622d"/>
<circle cx="174.45" cy="163.09" r="2.15" fill="#a0622d"/>
<circle cx="179.72" cy="163.05" r="2.15" fill="#a0622d"/>
<circle cx="185" cy="162.94" r="2.15" fill="#a0622d"/>
<circle cx="190.27" cy="162.78" r="2.15" fill="#a0622d"/>
<circle cx="195.55" cy="162.48" r="2.15" fill="#a0622d"/>
<circle cx="200.83" cy="162.04" r="2.15" fill="#a0622d"/>
<circle cx="206.1" cy="161.49" r="2.15" fill="#a0622d"/>
<circle cx="211.37" cy="160.84" r="2.15" fill="#a0622d"/>
<circle cx="216.65" cy="160.11" r="2.15" fill="#a0622d"/>
<circle cx="221.93" cy="159.31" r="2.15" fill="#a0622d"/>
<circle cx="227.2" cy="158.43" r="2.15" fill="#a0622d"/>
<circle cx="232.47" cy="157.5" r="2.15" fill="#a0622d"/>
<circle cx="237.75" cy="156.52" r="2.15" fill="#a0622d"/>
<circle cx="243.02" cy="155.47" r="2.15" fill="#a0622d"/>
<circle cx="248.3" cy="154.38" r="2.15" fill="#a0622d"/>
<circle cx="253.58" cy="153.19" r="2.15" fill="#a0622d"/>
<circle cx="258.85" cy="151.95" r="2.15" fill="#a0622d"/>
<circle cx="264.12" cy="150.66" r="2.15" fill="#a0622d"/>
<circle cx="269.4" cy="149.33" r="2.15" fill="#a0622d"/>
<circle cx="274.68" cy="147.96" r="2.15" fill="#a0622d"/>
<circle cx="279.95" cy="146.55" r="2.15" fill="#a0622d"/>
<circle cx="285.22" cy="145.09" r="2.15" fill="#a0622d"/>
<circle cx="290.5" cy="143.6" r="2.15" fill="#a0622d"/>
<polyline points="79.5,169.18 83.02,169.01 86.53,168.84 90.05,168.67 93.57,168.5 97.08,168.33 100.6,168.16 104.12,167.99 107.63,167.82 111.15,167.65 114.67,167.48 118.18,167.24 121.7,166.98 125.22,166.72 128.73,166.47 132.25,166.21 135.77,165.96 139.28,165.7 142.8,165.45 146.32,165.19 149.83,164.93 153.35,164.71 156.87,164.52 160.38,164.32 163.9,164.13 167.42,163.93 170.93,163.74 174.45,163.54 177.97,163.35 181.48,163.16 185,162.96 188.52,162.77 192.03,162.57 195.55,162.38 199.07,162.18 202.58,161.99 206.1,161.79 209.62,161.6 213.13,161.41 216.65,161.21 220.17,161.02 223.68,160.81 227.2,160.61 230.72,160.4 234.23,160.2 237.75,159.99 241.27,159.79 244.78,159.58 248.3,159.38 251.82,159.17 255.33,158.97 258.85,158.76 262.37,158.56 265.88,158.35 269.4,158.15 272.92,157.94 276.43,157.74 279.95,157.53 283.47,157.33 286.98,157.12 290.5,156.92" fill="none" stroke="#4040ff" stroke-width="0.7"/>
<polyline points="79.5,166.71 83.02,166.58 86.53,166.44 90.05,166.31 93.57,166.17 97.08,166.04 100.6,165.9 104.12,165.77 107.63,165.63 111.15,165.5 114.67,165.36 118.18,165.23 121.7,165.09 125.22,164.95 128.73,164.82 132.25,164.68 135.77,164.54 139.28,164.41 142.8,164.27 146.32,164.13 149.83,163.99 153.35,163.83 156.87,163.63 160.38,163.44 163.9,163.24 167.42,163.05 170.93,162.85 174.45,162.66 177.97,162.46 181.48,162.27 185,162.08 188.52,161.88 192.03,161.69 195.55,161.49 199.07,161.3 202.58,161.1 206.1,160.91 209.62,160.71 213.13,160.52 216.65,160.33 220.17,160.13 223.68,159.92 227.2,159.7 230.72,159.49 234.23,159.27 237.75,159.06 241.27,158.84 244.78,158.62 248.3,158.41 251.82,158.22 255.33,158.04 258.85,157.86 262.37,157.69 265.88,157.51 269.4,157.34 272.92,157.16 276.43,156.99 279.95,156.81 283.47,156.64 286.98,156.46 290.5,156.28" fill="none" stroke="#a0622d" stroke-width="1.9"/>
<polyline points="79.5,164.75 83.02,164.75 86.53,164.75 90.05,164.75 93.57,164.75 97.08,164.75 100.6,164.75 104.12,164.75 107.63,164.75 111.15,164.75 114.67,164.75 118.18,164.75 121.7,164.75 125.22,164.75 128.73,164.75 132.25,164.75 135.77,164.75 139.28,164.75 142.8,164.75 146.32,164.75 149.83,164.75 153.35,164.75 156.87,164.75 160.38,164.75 163.9,164.75 167.42,164.75 170.93,164.75 174.45,164.75 177.97,164.75 181.48,164.75 185,164.75 188.52,164.61 192.03,164.36 195.55,164.05 199.07,163.69 202.58,163.28 206.1,162.83 209.62,162.34 213.13,161.81 216.65,161.25 220.17,160.67 223.68,160.05 227.2,159.41 230.72,158.76 234.23,158.08 237.75,157.38 241.27,156.66 244.78,155.91 248.3,155.14 251.82,154.35 255.33,153.54 258.85,152.71 262.37,151.85 265.88,150.98 269.4,150.09 272.92,149.18 276.43,148.25 279.95,147.31 283.47,146.34 286.98,145.36 290.5,144.36" fill="none" stroke="#787878" stroke-width="1.2"/>
<polyline points="79.5,83.04 83.02,82.51 86.53,81.99 90.05,81.47 93.57,80.95 97.08,80.43 100.6,79.91 104.12,79.39 107.63,78.86 111.15,78.34 114.67,77.82 118.18,77.3 121.7,76.78 125.22,76.26 128.73,75.74 132.25,75.21 135.77,74.69 139.28,74.17 142.8,73.65 146.32,73.13 149.83,72.61 153.35,72.09 156.87,71.56 160.38,71.04 163.9,70.52 167.42,70 170.93,69.48 174.45,68.96 177.97,68.44 181.48,67.91 185,67.39 188.52,66.87 192.03,66.35 195.55,65.83 199.07,65.31 202.58,64.79 206.1,64.26 209.62,63.74 213.13,63.22 216.65,62.7 220.17,62.18 223.68,61.66 227.2,61.14 230.72,60.61 234.23,60.09 237.75,59.57 241.27,59.05 244.78,58.53 248.3,58.01 251.82,57.49 255.33,56.97 258.85,56.44 262.37,55.92 265.88,55.4 269.4,54.88 272.92,54.36 276.43,53.84 279.95,53.32 283.47,52.79 286.98,52.27 290.5,51.75" fill="none" stroke="#800080" stroke-width="2.1"/>
<polyline points="79.5,155.46 83.02,155.23 86.53,154.99 90.05,154.75 93.57,154.51 97.08,154.26 100.6,154.01 104.12,153.75 107.63,153.5 111.15,153.23 114.67,152.96 118.18,152.69 121.7,152.42 125.22,152.14 128.73,151.86 132.25,151.57 135.77,151.28 139.28,150.98 142.8,150.68 146.32,150.38 149.83,150.07 153.35,149.76 156.87,149.45 160.38,149.13 163.9,148.81 167.42,148.48 170.93,148.15 174.45,147.82 177.97,147.48 181.48,147.14 185,146.79 188.52,146.44 192.03,146.09 195.55,145.73 199.07,145.37 202.58,145.01 206.1,144.64 209.62,144.27 213.13,143.89 216.65,143.51 220.17,143.12 223.68,142.73 227.2,142.34 230.72,141.95 234.23,141.54 237.75,141.14 241.27,140.73 244.78,140.32 248.3,139.9 251.82,139.48 255.33,139.06 258.85,138.63 262.37,138.2 265.88,137.77 269.4,137.33 272.92,136.88 276.43,136.43 279.95,135.98 283.47,135.53 286.98,135.07 290.5,134.61" fill="none" stroke="#ff0000" stroke-width="2.2"/>
</g>
<g stroke="#4a4a4a" stroke-width="0.7" fill="none">
<rect x="75.3" y="41.3" width="219.5" height="135.2"/>
<path d="M79.5 176.5v-1.9M79.5 41.3v1.9"/>
<path d="M90.05 176.5v-1.9M90.05 41.3v1.9"/>
<path d="M100.6 176.5v-3.2M100.6 41.3v3.2"/>
<path d="M111.15 176.5v-1.9M111.15 41.3v1.9"/>
<path d="M121.7 176.5v-1.9M121.7 41.3v1.9"/>
<path d="M132.25 176.5v-1.9M132.25 41.3v1.9"/>
<path d="M142.8 176.5v-3.2M142.8 41.3v3.2"/>
<path d="M153.35 176.5v-1.9M153.35 41.3v1.9"/>
<path d="M163.9 176.5v-1.9M163.9 41.3v1.9"/>
<path d="M174.45 176.5v-1.9M174.45 41.3v1.9"/>
<path d="M185 176.5v-3.2M185 41.3v3.2"/>
<path d="M195.55 176.5v-1.9M195.55 41.3v1.9"/>
<path d="M206.1 176.5v-1.9M206.1 41.3v1.9"/>
<path d="M216.65 176.5v-1.9M216.65 41.3v1.9"/>
<path d="M227.2 176.5v-3.2M227.2 41.3v3.2"/>
<path d="M237.75 176.5v-1.9M237.75 41.3v1.9"/>
<path d="M248.3 176.5v-1.9M248.3 41.3v1.9"/>
<path d="M258.85 176.5v-1.9M258.85 41.3v1.9"/>
<path d="M269.4 176.5v-3.2M269.4 41.3v3.2"/>
<path d="M279.95 176.5v-1.9M279.95 41.3v1.9"/>
<path d="M290.5 176.5v-1.9M290.5 41.3v1.9"/>
<path d="M75.3 170.82h1.9M294.8 170.82h-1.9"/>
<path d="M75.3 164.5h3.2M294.8 164.5h-3.2"/>
<path d="M75.3 158.18h1.9M294.8 158.18h-1.9"/>
<path d="M75.3 151.86h1.9M294.8 151.86h-1.9"/>
<path d="M75.3 145.54h1.9M294.8 145.54h-1.9"/>
<path d="M75.3 139.22h1.9M294.8 139.22h-1.9"/>
<path d="M75.3 132.9h3.2M294.8 132.9h-3.2"/>
<path d="M75.3 126.58h1.9M294.8 126.58h-1.9"/>
<path d="M75.3 120.26h1.9M294.8 120.26h-1.9"/>
<path d="M75.3 113.94h1.9M294.8 113.94h-1.9"/>
<path d="M75.3 107.62h1.9M294.8 107.62h-1.9"/>
<path d="M75.3 101.3h3.2M294.8 101.3h-3.2"/>
<path d="M75.3 94.98h1.9M294.8 94.98h-1.9"/>
<path d="M75.3 88.66h1.9M294.8 88.66h-1.9"/>
<path d="M75.3 82.34h1.9M294.8 82.34h-1.9"/>
<path d="M75.3 76.02h1.9M294.8 76.02h-1.9"/>
<path d="M75.3 69.7h3.2M294.8 69.7h-3.2"/>
<path d="M75.3 63.38h1.9M294.8 63.38h-1.9"/>
<path d="M75.3 57.06h1.9M294.8 57.06h-1.9"/>
<path d="M75.3 50.74h1.9M294.8 50.74h-1.9"/>
<path d="M75.3 44.42h1.9M294.8 44.42h-1.9"/>
</g>
<g filter="url(#nl)" font-family="Liberation Serif, serif" font-size="11.6" fill="#000">
<text x="100.6" y="190" text-anchor="middle">0.96</text>
<text x="142.8" y="190" text-anchor="middle">0.98</text>
<text x="185" y="190" text-anchor="middle">1.00</text>
<text x="227.2" y="190" text-anchor="middle">1.02</text>
<text x="269.4" y="190" text-anchor="middle">1.04</text>
<text x="71.4" y="167.9" text-anchor="end">0.00</text>
<text x="71.4" y="136.3" text-anchor="end">0.05</text>
<text x="71.4" y="104.7" text-anchor="end">0.10</text>
<text x="71.4" y="73.1" text-anchor="end">0.15</text>
</g>
<g filter="url(#nl)" font-family="Liberation Serif, serif" fill="#000">
<text x="234" y="314.1" font-size="12">v/<tspan font-style="italic">c</tspan><tspan font-style="italic" font-size="8.5" dy="2">s</tspan></text>
<text transform="translate(8.6 155.2) rotate(-90)" text-anchor="middle" font-size="11.7">Average total number of created bogolons</text>
<text x="93.13" y="16.9" font-size="18.6" font-style="italic">c</text>
<text x="101.26" y="19.8" font-size="11.8" font-style="italic">s</text>
<text x="105.63" y="16.9" font-size="17.7">t</text>
<text x="109.9" y="16.9" font-size="17.7" textLength="5.4" lengthAdjust="spacingAndGlyphs">/</text>
<text transform="translate(115.14 18.1) skewX(-10)" font-size="18.8" font-style="italic" textLength="8.27" lengthAdjust="spacingAndGlyphs">ξ</text>
<path d="M127.3 11.1h10.8M127.3 13.9h10.8" stroke="#000" stroke-width="1" fill="none"/>
<text x="139.24" y="16.9" font-size="17.7">1</text>
<text x="147.92" y="16.9" font-size="17.7">(</text>
<text x="162.33" y="16.9" font-size="17.7">)</text>
<text x="166.83" y="16.9" font-size="17.7">,</text>
<text x="176.44" y="16.9" font-size="17.7">10</text>
<text x="193.82" y="16.9" font-size="17.7">(</text>
<text x="211.23" y="16.9" font-size="17.7">)</text>
<text x="216.53" y="16.9" font-size="17.7">,</text>
<text x="226.64" y="16.9" font-size="17.7">100</text>
<text x="252.12" y="16.9" font-size="17.7">(</text>
<text x="267.43" y="16.9" font-size="17.7">)</text>
<text x="274.23" y="16.9" font-size="17.7">,</text>
<text x="283.14" y="16.9" font-size="17.7">1000</text>
<text x="318.52" y="16.9" font-size="17.7">(</text>
<text x="332.73" y="16.9" font-size="17.7">)</text>
<text x="338.13" y="16.9" font-size="17.7">,</text>
<text x="346.98" y="16.9" font-size="17.7" textLength="17.45" lengthAdjust="spacingAndGlyphs">∞</text>
<text x="365.22" y="16.9" font-size="17.7">(</text>
<path d="M371.8 12.1h11.1" stroke="#000" stroke-width="1" fill="none"/>
<text x="384.03" y="16.9" font-size="17.7">)</text>
<circle cx="157.5" cy="11.6" r="3.15" fill="none" stroke="#4040ff" stroke-width="1"/>
<path d="M205.55 7.4L210 16.2L201.1 16.2Z" fill="none" stroke="#9c1f9c" stroke-width="0.9"/>
<rect x="259.6" y="8.5" width="6.8" height="5.9" fill="none" stroke="#ff2a2a" stroke-width="1"/>
<circle cx="328.8" cy="12.8" r="3.6" fill="#a0622d"/>
</g>
</svg>
</body></html>
